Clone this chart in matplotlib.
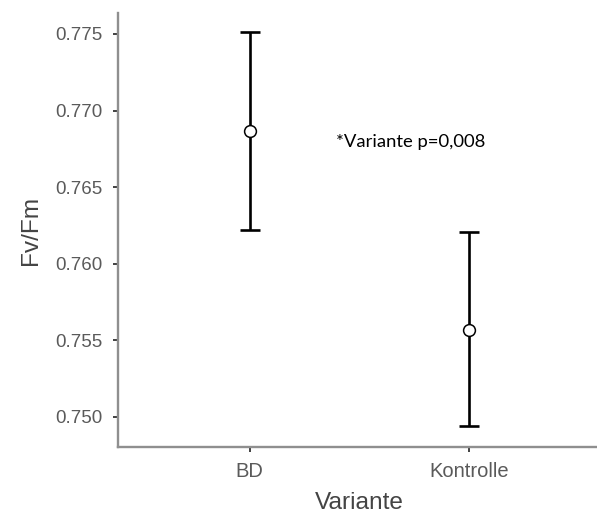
import matplotlib
matplotlib.use("Agg")
import matplotlib.pyplot as plt

# data
groups = ['BD', 'Kontrolle']
means = [0.7687, 0.7557]
lower = [0.7622, 0.7494]
upper = [0.7751, 0.7621]

x = list(range(len(groups)))
err_lo = [m - l for m, l in zip(means, lower)]
err_hi = [u - m for m, u in zip(means, upper)]

plt.rcParams['font.family'] = ['Liberation Sans', 'DejaVu Sans']

fig = plt.figure(figsize=(5.97, 5.20), dpi=100)
ax = fig.add_axes([118 / 597, 73 / 520, 483 / 597, 434 / 520])

ax.errorbar(x, means, yerr=[err_lo, err_hi], fmt='none', ecolor='black',
            elinewidth=1.9, capsize=7.5, capthick=1.9, zorder=2)
ax.plot(x, means, 'o', markersize=8.5, markerfacecolor='white',
        markeredgecolor='black', markeredgewidth=1.1, zorder=3)

ax.set_xlim(-0.6, 1.6)
ax.set_ylim(0.74804, 0.77637)
ax.set_xticks(x)
ax.set_xticklabels(groups)
ax.set_yticks([0.750, 0.755, 0.760, 0.765, 0.770, 0.775])
ax.set_yticklabels(['0.750', '0.755', '0.760', '0.765', '0.770', '0.775'])

for side in ['top', 'right']:
    ax.spines[side].set_visible(False)
for side in ['left', 'bottom']:
    ax.spines[side].set_color('#8f8f8f')
    ax.spines[side].set_linewidth(1.7)

ax.tick_params(axis='both', length=3.8, width=1.3, color='#333333',
               labelcolor='#5a5a5a', labelsize=13.5)
ax.tick_params(axis='y', pad=7)
ax.tick_params(axis='x', pad=7, labelsize=14.5)

ax.set_xlabel('Variante', fontsize=17.6, color='#444444', labelpad=8)
ax.set_ylabel('Fv/Fm', fontsize=17.6, color='#444444', labelpad=10)

ax.text(0.391, 0.76795, '*Variante p=0,008', fontsize=13.3, va='center',
        ha='left', color='black', family=['Lato', 'DejaVu Sans'])

fig.savefig('out.png', dpi=100)
